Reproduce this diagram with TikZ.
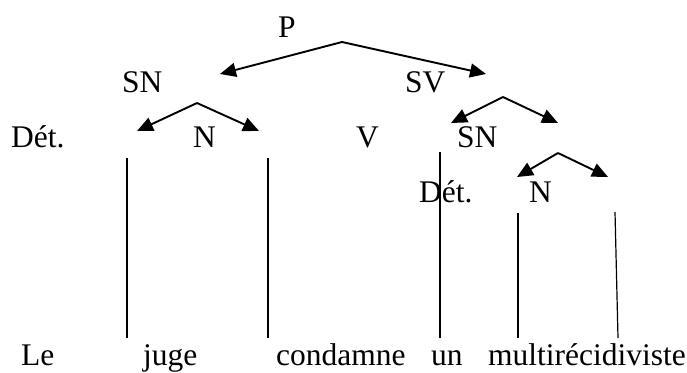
\documentclass[tikz,border=0pt]{standalone}
\usepackage{fontspec}
\setmainfont{Liberation Serif}
\usetikzlibrary{arrows.meta}
\begin{document}
\begin{tikzpicture}[x=1pt,y=-1pt,
  lbl/.style={anchor=base west,inner sep=0pt,font=\fontsize{31.5}{38}\selectfont},
  branch/.style={line width=1.9pt,-{Triangle[length=16pt,width=14pt]}},
  stem/.style={line width=1.2pt}]
\fill[white] (0,0) rectangle (687,372);
\useasboundingbox (0,0) rectangle (687,372);
% labels
\node[lbl] (P) at (278,37) {P};
\node[lbl] (SNa) at (122,92) {SN};
\node[lbl] (SV) at (405,92) {SV};
\node[lbl] (Deta) at (11,147) {Dét.};
\node[lbl] (Na) at (193,147) {N};
\node[lbl] (V) at (356,147) {V};
\node[lbl] (SNb) at (457,147) {SN};
\node[lbl] (Detb) at (419,202) {Dét.};
\node[lbl] (Nb) at (529,202) {N};
\node[lbl] (Le) at (21,365) {Le};
\node[lbl] (juge) at (143,365) {juge};
\node[lbl] (condamne) at (276,365) {condamne};
\node[lbl] (un) at (431,365) {un};
\node[lbl] (multi) at (488,365) {multirécidiviste};
% branch points
\coordinate (aP) at (342,42);
\coordinate (tPl) at (220,74);
\coordinate (tPr) at (486,74);
\coordinate (aSNa) at (197,103);
\coordinate (tSNal) at (137,131);
\coordinate (tSNar) at (259,131);
\coordinate (aSV) at (503,97);
\coordinate (tSVl) at (451,123);
\coordinate (tSVr) at (558,123);
\coordinate (aSNb) at (558,153);
\coordinate (tSNbl) at (517,177);
\coordinate (tSNbr) at (608,177);
\draw[branch] (aP) -- (tPl);
\draw[branch] (aP) -- (tPr);
\draw[branch] (aSNa) -- (tSNal);
\draw[branch] (aSNa) -- (tSNar);
\draw[branch] (aSV) -- (tSVl);
\draw[branch] (aSV) -- (tSVr);
\draw[branch] (aSNb) -- (tSNbl);
\draw[branch] (aSNb) -- (tSNbr);
% vertical stems
\coordinate (s1t) at (127,158); \coordinate (s1b) at (127,338);
\coordinate (s2t) at (268,158); \coordinate (s2b) at (268,338);
\coordinate (s3t) at (440,152); \coordinate (s3b) at (440,338);
\coordinate (s4t) at (518,213); \coordinate (s4b) at (518,338);
\coordinate (s5t) at (615,212); \coordinate (s5b) at (618,338);
\draw[stem] (s1t) -- (s1b);
\draw[stem] (s2t) -- (s2b);
\draw[stem] (s3t) -- (s3b);
\draw[stem] (s4t) -- (s4b);
\draw[stem] (s5t) -- (s5b);
\end{tikzpicture}
\end{document}
